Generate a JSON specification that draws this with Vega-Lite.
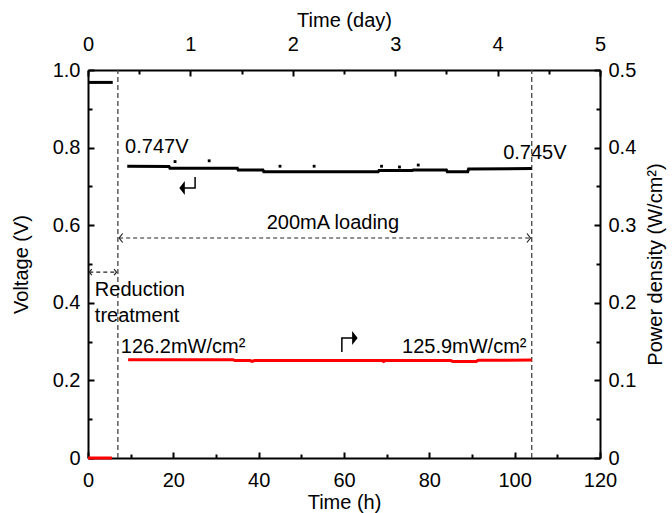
{
  "$schema": "https://vega.github.io/schema/vega-lite/v6.json",
  "width": 512,
  "height": 388,
  "autosize": {"type": "none"},
  "padding": {"left": 88, "top": 70, "right": 72, "bottom": 55},
  "config": {
    "view": {"stroke": null},
    "font": "Liberation Sans",
    "axis": {
      "grid": false,
      "domainColor": "black",
      "domainWidth": 2,
      "tickColor": "black",
      "tickWidth": 2,
      "labelFont": "Liberation Sans",
      "labelFontSize": 20,
      "labelColor": "black",
      "titleFont": "Liberation Sans",
      "titleFontSize": 20,
      "titleFontWeight": "normal",
      "titleColor": "black",
      "labelFlush": false,
      "labelOverlap": false
    }
  },
  "datasets": {
    "volt": [
      {"h": 0, "v": 0.968, "seg": "a"},
      {"h": 5.8, "v": 0.968, "seg": "a"},
      {"h": 9.2, "v": 0.752, "seg": "b"},
      {"h": 19, "v": 0.751, "seg": "b"},
      {"h": 19.2, "v": 0.747, "seg": "b"},
      {"h": 35, "v": 0.747, "seg": "b"},
      {"h": 35.2, "v": 0.742, "seg": "b"},
      {"h": 41, "v": 0.742, "seg": "b"},
      {"h": 41.2, "v": 0.738, "seg": "b"},
      {"h": 68, "v": 0.738, "seg": "b"},
      {"h": 68.2, "v": 0.741, "seg": "b"},
      {"h": 76, "v": 0.741, "seg": "b"},
      {"h": 76.2, "v": 0.742, "seg": "b"},
      {"h": 84, "v": 0.742, "seg": "b"},
      {"h": 84.2, "v": 0.738, "seg": "b"},
      {"h": 89, "v": 0.738, "seg": "b"},
      {"h": 89.2, "v": 0.745, "seg": "b"},
      {"h": 104, "v": 0.746, "seg": "b"}
    ],
    "spikes": [
      {"h": 20.4, "v": 0.764},
      {"h": 28.4, "v": 0.766},
      {"h": 45, "v": 0.752},
      {"h": 53, "v": 0.752},
      {"h": 68.8, "v": 0.752},
      {"h": 73, "v": 0.75},
      {"h": 77.4, "v": 0.755}
    ],
    "vrules": [
      {"h": 7, "v": 0, "v2": 1},
      {"h": 104, "v": 0, "v2": 1}
    ],
    "hrules": [
      {"h": 7.3, "h2": 103.7, "v": 0.567},
      {"h": 0.3, "h2": 6.7, "v": 0.479}
    ],
    "heads": [
      {"h": 7.3, "v": 0.567, "dir": "L"},
      {"h": 103.7, "v": 0.567, "dir": "R"},
      {"h": 0.3, "v": 0.479, "dir": "l"},
      {"h": 6.7, "v": 0.479, "dir": "r"}
    ],
    "bent": [
      {"g": "v", "o": 1, "h": 25.1, "v": 0.7242},
      {"g": "v", "o": 2, "h": 25.1, "v": 0.6959},
      {"g": "v", "o": 3, "h": 21.6, "v": 0.6959},
      {"g": "p", "o": 1, "h": 59.5, "v": 0.2732},
      {"g": "p", "o": 2, "h": 59.5, "v": 0.3093},
      {"g": "p", "o": 3, "h": 63.0, "v": 0.3093}
    ],
    "bentheads": [
      {"h": 21.4, "v": 0.6959, "dir": "left"},
      {"h": 63.2, "v": 0.3093, "dir": "right"}
    ],
    "labels": [
      {"h": 8.7, "v": 0.802, "text": "0.747V"},
      {"h": 97.3, "v": 0.786, "text": "0.745V"},
      {"h": 1.6, "v": 0.433, "text": "Reduction"},
      {"h": 1.6, "v": 0.366, "text": "treatment"},
      {"h": 7.7, "v": 0.286, "text": "126.2mW/cm²"},
      {"h": 73.6, "v": 0.286, "text": "125.9mW/cm²"}
    ],
    "clabels": [
      {"h": 57.4, "v": 0.606, "text": "200mA loading"}
    ],
    "power": [
      {"h": 0, "p": 0, "seg": "a"},
      {"h": 5.6, "p": 0, "seg": "a"},
      {"h": 9.4, "p": 0.1265, "seg": "b"},
      {"h": 34, "p": 0.1265, "seg": "b"},
      {"h": 34.5, "p": 0.1255, "seg": "b"},
      {"h": 38, "p": 0.1255, "seg": "b"},
      {"h": 38.5, "p": 0.1245, "seg": "b"},
      {"h": 39, "p": 0.1255, "seg": "b"},
      {"h": 69, "p": 0.1255, "seg": "b"},
      {"h": 69.3, "p": 0.1245, "seg": "b"},
      {"h": 69.6, "p": 0.1255, "seg": "b"},
      {"h": 85, "p": 0.1255, "seg": "b"},
      {"h": 85.5, "p": 0.1245, "seg": "b"},
      {"h": 91, "p": 0.1245, "seg": "b"},
      {"h": 91.5, "p": 0.126, "seg": "b"},
      {"h": 104, "p": 0.1262, "seg": "b"}
    ]
  },
  "layer": [
    {
      "encoding": {
        "x": {
          "field": "h",
          "type": "quantitative",
          "scale": {"domain": [0, 120], "nice": false, "zero": false},
          "axis": {
            "orient": "bottom",
            "title": "Time (h)",
            "values": [0, 10, 20, 30, 40, 50, 60, 70, 80, 90, 100, 110, 120],
            "tickSize": {"condition": {"test": "datum.value % 20 === 0", "value": -6}, "value": -4},
            "labelExpr": "datum.value % 20 === 0 ? datum.label : ''",
            "labelPadding": 18,
            "titlePadding": 0
          }
        },
        "y": {
          "field": "v",
          "type": "quantitative",
          "scale": {"domain": [0, 1], "nice": false},
          "axis": {
            "orient": "left",
            "title": "Voltage (V)",
            "values": [0, 0.1, 0.2, 0.3, 0.4, 0.5, 0.6, 0.7, 0.8, 0.9, 1],
            "tickSize": {"condition": {"test": "round(datum.value * 10) % 2 === 0", "value": -6}, "value": -4},
            "labelExpr": "datum.value === 0 ? '0' : (round(datum.value * 10) % 2 === 0 ? format(datum.value, '.1f') : '')",
            "labelPadding": 14,
            "titlePadding": 21
          }
        }
      },
      "layer": [
        {
          "data": {"name": "vrules"},
          "mark": {"type": "rule", "color": "#444", "strokeDash": [5, 3], "strokeWidth": 1.3},
          "encoding": {"y2": {"field": "v2"}}
        },
        {
          "data": {"name": "hrules"},
          "mark": {"type": "rule", "color": "#222", "strokeDash": [4, 3], "strokeWidth": 1.2},
          "encoding": {"x2": {"field": "h2"}}
        },
        {
          "data": {"name": "heads"},
          "mark": {"type": "point", "filled": false, "color": "#222", "strokeWidth": 1.2, "opacity": 1},
          "encoding": {
            "shape": {
              "field": "dir",
              "type": "nominal",
              "scale": {
                "domain": ["L", "R", "l", "r"],
                "range": ["M3.5,-4.5L0,0L3.5,4.5", "M-3.5,-4.5L0,0L-3.5,4.5", "M2.5,-3L0,0L2.5,3", "M-2.5,-3L0,0L-2.5,3"]
              },
              "legend": null
            },
            "size": {"value": 4}
          }
        },
        {
          "data": {"name": "bent"},
          "mark": {"type": "line", "color": "black", "strokeWidth": 1.5},
          "encoding": {"detail": {"field": "g"}, "order": {"field": "o", "type": "quantitative"}}
        },
        {
          "data": {"name": "bentheads"},
          "mark": {"type": "point", "filled": true, "color": "black", "opacity": 1},
          "encoding": {
            "shape": {
              "field": "dir",
              "type": "nominal",
              "scale": {"domain": ["left", "right"], "range": ["triangle-left", "triangle-right"]},
              "legend": null
            },
            "size": {"value": 10}
          }
        },
        {
          "data": {"name": "volt"},
          "mark": {"type": "line", "color": "black", "strokeWidth": 3},
          "encoding": {"detail": {"field": "seg"}}
        },
        {
          "data": {"name": "spikes"},
          "mark": {"type": "square", "color": "black", "size": 8, "opacity": 1},
          "encoding": {}
        },
        {
          "data": {"name": "labels"},
          "mark": {"type": "text", "align": "left", "baseline": "middle", "fontSize": 20, "font": "Liberation Sans", "color": "black"},
          "encoding": {"text": {"field": "text"}}
        },
        {
          "data": {"name": "clabels"},
          "mark": {"type": "text", "align": "center", "baseline": "middle", "fontSize": 20, "font": "Liberation Sans", "color": "black"},
          "encoding": {"text": {"field": "text"}}
        }
      ]
    },
    {
      "data": {"name": "power"},
      "mark": {"type": "line", "color": "#ff0000", "strokeWidth": 3},
      "encoding": {
        "x": {
          "field": "h",
          "type": "quantitative",
          "scale": {"domain": [0, 120], "nice": false, "zero": false},
          "axis": {
            "orient": "top",
            "title": "Time (day)",
            "values": [0, 12, 24, 36, 48, 60, 72, 84, 96, 108, 120],
            "tickSize": {"condition": {"test": "datum.value % 24 === 0", "value": -6}, "value": -4},
            "labelExpr": "datum.value % 24 === 0 ? format(datum.value / 24, 'd') : ''",
            "labelPadding": 22,
            "titlePadding": 2
          }
        },
        "y": {
          "field": "p",
          "type": "quantitative",
          "scale": {"domain": [0, 0.5], "nice": false},
          "axis": {
            "orient": "right",
            "title": "Power density (W/cm²)",
            "titleAngle": 270,
            "titleBaseline": "top",
            "values": [0, 0.05, 0.1, 0.15, 0.2, 0.25, 0.3, 0.35, 0.4, 0.45, 0.5],
            "tickSize": {"condition": {"test": "round(datum.value * 100) % 10 === 0", "value": -6}, "value": -4},
            "labelExpr": "datum.value === 0 ? '0' : (round(datum.value * 100) % 10 === 0 ? format(datum.value, '.1f') : '')",
            "labelPadding": 14,
            "titlePadding": 10
          }
        },
        "detail": {"field": "seg"}
      }
    }
  ],
  "resolve": {"scale": {"x": "independent", "y": "independent"}}
}
